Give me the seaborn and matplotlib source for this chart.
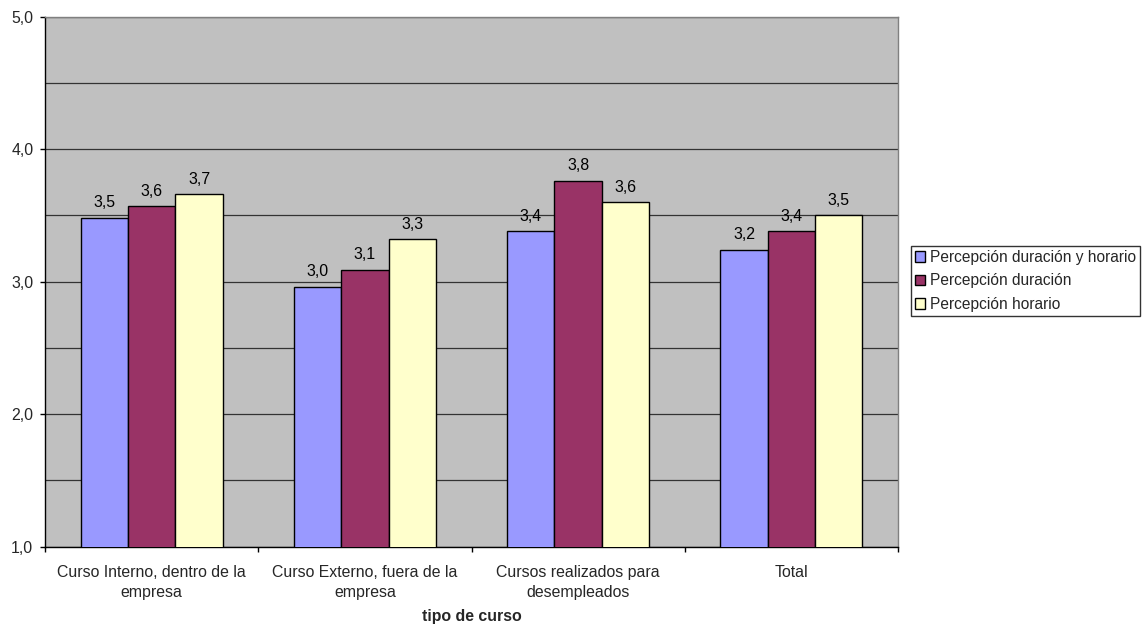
import matplotlib
matplotlib.use("Agg")
import matplotlib.pyplot as plt
from matplotlib.ticker import FixedLocator, FuncFormatter, MultipleLocator
from matplotlib.patches import Patch
import pandas as pd
import seaborn as sns

# Chart data
categories = [
    "Curso Interno, dentro de la\nempresa",
    "Curso Externo, fuera de la\nempresa",
    "Cursos realizados para\ndesempleados",
    "Total",
]
series = ["Percepción duración y horario", "Percepción duración", "Percepción horario"]
duracion_horario = [3.48, 2.96, 3.38, 3.24]
duracion = [3.57, 3.09, 3.76, 3.38]
horario = [3.66, 3.32, 3.60, 3.50]
colors = ["#9999FF", "#993366", "#FFFFCC"]
y_ticks = [1.0, 2.0, 3.0, 4.0, 5.0]

df = pd.DataFrame({
    "categoria": categories * 3,
    "serie": [series[0]] * 4 + [series[1]] * 4 + [series[2]] * 4,
    "valor": duracion_horario + duracion + horario,
})

FS = 11.4

sns.set_style("white")
plt.rcParams["font.family"] = ["Liberation Sans", "DejaVu Sans"]
plt.rcParams["font.size"] = FS

W, H = 1144, 624
fig = plt.figure(figsize=(W / 100, H / 100), dpi=100)
fig.patch.set_facecolor("white")
left, right, top, bottom = 45, 898, 16.7, 546.7
ax = fig.add_axes([left / W, 1 - bottom / H, (right - left) / W, (bottom - top) / H])
ax.set_facecolor("#C0C0C0")

sns.barplot(
    data=df, x="categoria", y="valor", hue="serie",
    order=categories, hue_order=series, palette=colors,
    width=3 / 4.5, edgecolor="black", linewidth=1.0,
    saturation=1, legend=False, ax=ax, zorder=3,
)

ax.set_ylim(1.0, 5.0)
ax.set_xlim(-0.5, 3.5)

# value labels above each bar
for cont in ax.containers:
    vals = [b.get_height() for b in cont]
    ax.bar_label(cont, labels=[f"{v:.1f}".replace(".", ",") for v in vals],
                 padding=5.5, fontsize=FS, color="black")

# y axis: labels at whole units, gridlines every half unit
ax.yaxis.set_major_locator(FixedLocator(y_ticks))
ax.yaxis.set_minor_locator(MultipleLocator(0.5))
ax.yaxis.set_major_formatter(FuncFormatter(lambda v, p: f"{v:.1f}".replace(".", ",")))
ax.tick_params(axis="y", which="major", direction="out", length=3.6, width=1,
               color="black", pad=4.8, labelsize=FS, left=True)
ax.tick_params(axis="y", which="minor", length=0)
ax.grid(axis="y", which="both", color="#333333", linewidth=0.9, zorder=0)
ax.set_axisbelow(True)

# x axis: category labels centred, tick marks between categories
ax.xaxis.set_minor_locator(FixedLocator([-0.5, 0.5, 1.5, 2.5, 3.5]))
ax.tick_params(axis="x", which="major", length=0, pad=13, labelsize=FS)
ax.tick_params(axis="x", which="minor", direction="out", length=3.6, width=1,
               color="black", bottom=True)
for lbl in ax.get_xticklabels():
    lbl.set_linespacing(1.4)
ax.set_xlabel("")
ax.set_ylabel("")

for side in ["left", "bottom"]:
    ax.spines[side].set_color("black")
    ax.spines[side].set_linewidth(1.0)
for side in ["top", "right"]:
    ax.spines[side].set_color("#808080")
    ax.spines[side].set_linewidth(1.0)

fig.text((left + right) / 2 / W, 1 - 617 / H, "tipo de curso",
         ha="center", va="center", fontsize=FS, fontweight="bold")

handles = [Patch(facecolor=c, edgecolor="black", linewidth=1.0) for c in colors]
leg = fig.legend(
    handles, series, loc="upper left",
    bbox_to_anchor=(911 / W, 1 - 246 / H),
    frameon=True, fancybox=False, shadow=False,
    handlelength=0.65, handleheight=0.65, handletextpad=0.3,
    labelspacing=0.55, borderpad=0.25, borderaxespad=0, fontsize=11.2,
)
leg.get_frame().set_edgecolor("black")
leg.get_frame().set_linewidth(1.0)

fig.savefig("out.png", dpi=100)
